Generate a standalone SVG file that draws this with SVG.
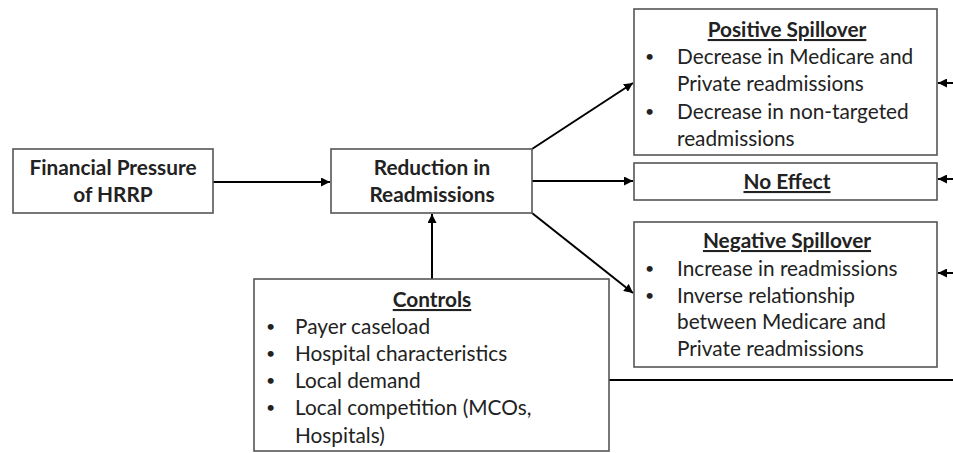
<svg xmlns="http://www.w3.org/2000/svg" width="953" height="453" viewBox="0 0 953 453">
<defs>
<style>
.box{fill:#fff;stroke:#555;stroke-width:1.6}
.t{font-family:Lato,"Open Sans","Liberation Sans",sans-serif;fill:#222}
.h{font-size:20.8px;font-weight:bold;text-anchor:middle}
.u{text-decoration:underline}
.b{font-size:20.8px}
.d{font-size:16px}
.c{stroke:#000;stroke-width:2;fill:none}
</style>
<marker id="ah" viewBox="0 0 10 10" refX="10" refY="5" markerWidth="4.5" markerHeight="4.5" orient="auto" markerUnits="strokeWidth">
<path d="M0,0 L10,5 L0,10 z" fill="#000"/>
</marker>
</defs>
<g id="connectors">
<line class="c" x1="213" y1="182" x2="330" y2="182" marker-end="url(#ah)"/>
<line class="c" x1="532" y1="181" x2="633" y2="181" marker-end="url(#ah)"/>
<line class="c" x1="532" y1="149" x2="633" y2="83" marker-end="url(#ah)"/>
<line class="c" x1="532" y1="213" x2="633" y2="293" marker-end="url(#ah)"/>
<line class="c" x1="432" y1="279" x2="432" y2="214" marker-end="url(#ah)"/>
<line class="c" x1="953" y1="83" x2="938" y2="83" marker-end="url(#ah)"/>
<line class="c" x1="953" y1="179" x2="938" y2="179" marker-end="url(#ah)"/>
<line class="c" x1="953" y1="273" x2="938" y2="273" marker-end="url(#ah)"/>
<line class="c" x1="609" y1="380" x2="953" y2="380"/>
</g>
<g id="financial">
<rect class="box" x="13" y="149" width="200" height="64"/>
<text class="t h" x="113" y="175">Financial Pressure</text>
<text class="t h" x="113" y="202">of HRRP</text>
</g>
<g id="reduction">
<rect class="box" x="331" y="149" width="201" height="64"/>
<text class="t h" x="432" y="175">Reduction in</text>
<text class="t h" x="432" y="202">Readmissions</text>
</g>
<g id="positive">
<rect class="box" x="634" y="9" width="303" height="146"/>
<text class="t h u" x="787" y="37">Positive Spillover</text>
<text class="t d" x="645" y="62">•</text>
<text class="t b" x="677" y="64">Decrease in Medicare and</text>
<text class="t b" x="677" y="91">Private readmissions</text>
<text class="t d" x="645" y="117">•</text>
<text class="t b" x="677" y="119">Decrease in non-targeted</text>
<text class="t b" x="677" y="146">readmissions</text>
</g>
<g id="noeffect">
<rect class="box" x="634" y="163" width="303" height="37"/>
<text class="t h u" x="787" y="189">No Effect</text>
</g>
<g id="negative">
<rect class="box" x="634" y="222" width="303" height="145"/>
<text class="t h u" x="787" y="248">Negative Spillover</text>
<text class="t d" x="645" y="274">•</text>
<text class="t b" x="677" y="276">Increase in readmissions</text>
<text class="t d" x="645" y="301">•</text>
<text class="t b" x="677" y="303">Inverse relationship</text>
<text class="t b" x="677" y="329">between Medicare and</text>
<text class="t b" x="677" y="356">Private readmissions</text>
</g>
<g id="controls">
<rect class="box" x="254" y="279" width="355" height="172"/>
<text class="t h u" x="432" y="307">Controls</text>
<text class="t d" x="266" y="332">•</text>
<text class="t b" x="295" y="334">Payer caseload</text>
<text class="t d" x="266" y="359">•</text>
<text class="t b" x="295" y="361">Hospital characteristics</text>
<text class="t d" x="266" y="386">•</text>
<text class="t b" x="295" y="388">Local demand</text>
<text class="t d" x="266" y="413">•</text>
<text class="t b" x="295" y="415">Local competition (MCOs,</text>
<text class="t b" x="295" y="443">Hospitals)</text>
</g>
</svg>
